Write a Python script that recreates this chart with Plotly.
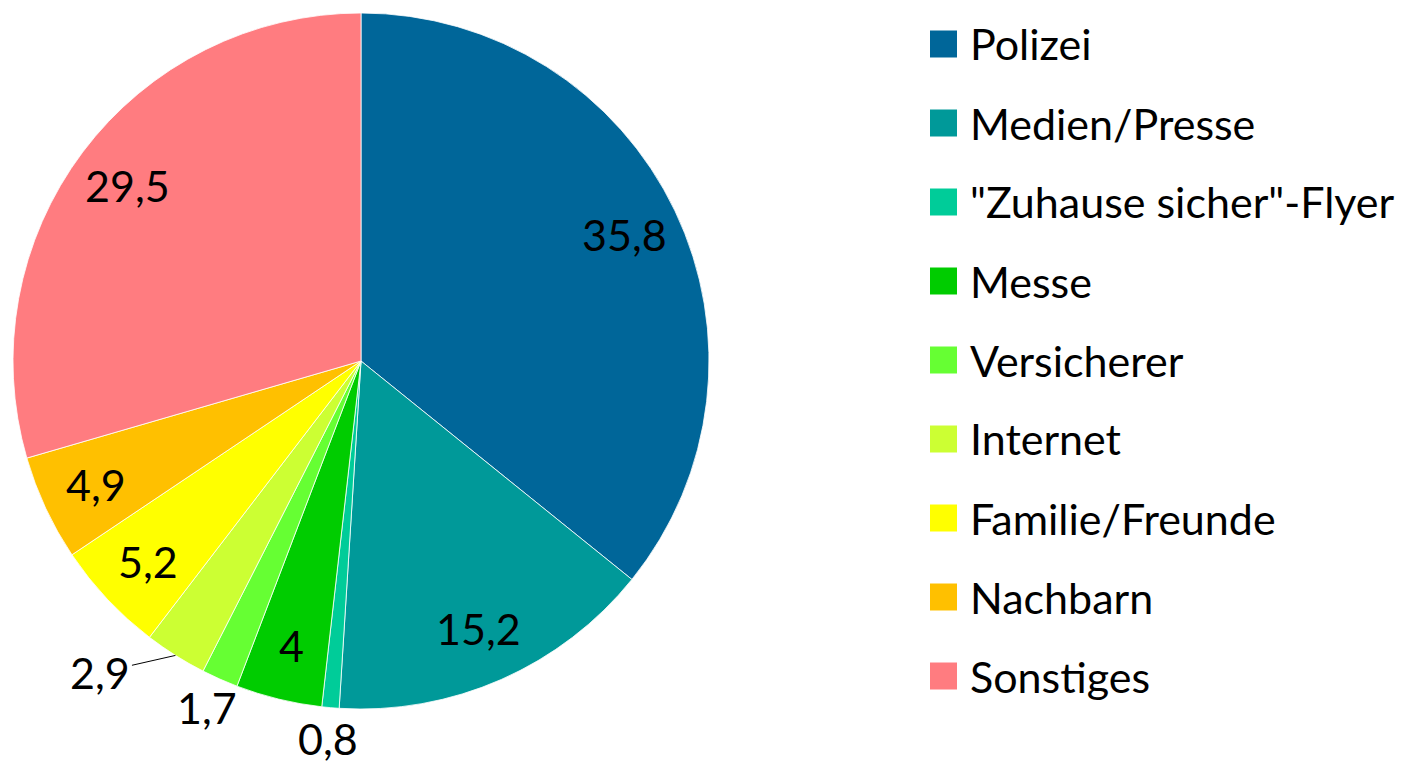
import numpy as np
import plotly.graph_objects as go

## Data
labels = ["Polizei", "Medien/Presse", "\"Zuhause sicher\"-Flyer", "Messe", "Versicherer",
          "Internet", "Familie/Freunde", "Nachbarn", "Sonstiges"]
values = [35.8, 15.2, 0.8, 4, 1.7, 2.9, 5.2, 4.9, 29.5]
colors = ["#006699", "#009999", "#00CC99", "#00CC00", "#66FF33",
          "#CCFF33", "#FFFF00", "#FFC000", "#FF7C80"]

## Page is 1413x763, but the body has an 8px margin, so the figure is shrunk to fit
OFF = 8
W, H = 1413 - OFF, 763 - OFF
FONT = "Lato"
FS = 43

## Pie geometry (page pixels)
cx, cy, R = 361, 361, 348

def px(x):
    return (x - OFF) / W

def py(y):
    return 1 - (y - OFF) / H

fig = go.Figure()

fig.add_trace(go.Pie(
    labels=labels,
    values=values,
    sort=False,
    direction="clockwise",
    rotation=0,
    marker=dict(colors=colors, line=dict(color="white", width=0.8)),
    textinfo="none",
    hoverinfo="label+value",
    showlegend=False,
    domain=dict(x=[px(cx - R), px(cx + R)], y=[py(cy + R), py(cy - R)])
))

## Slice labels
annotations = []
shapes = []
vals = np.array(values)
cum = np.cumsum(vals) - vals / 2
total = vals.sum()
for v, c in zip(values, cum):
    theta = np.deg2rad(c / total * 360)
    txt = f"{v:g}".replace(".", ",")
    if v >= 3:
        r = 0.84 * R
        annotations.append(dict(
            x=px(cx + r * np.sin(theta)), y=py(cy - r * np.cos(theta)),
            xref="paper", yref="paper", text=txt, showarrow=False,
            xanchor="center", yanchor="middle",
            font=dict(family=FONT, size=FS, color="black")))
    elif v > 2:
        # label pulled out with a leader line
        ex, ey = cx + R * np.sin(theta), cy - R * np.cos(theta)
        annotations.append(dict(
            x=px(ex), y=py(ey), xref="paper", yref="paper", text=txt,
            showarrow=True, arrowhead=0, arrowwidth=1, arrowcolor="black",
            ax=-75, ay=17, xanchor="center", yanchor="middle",
            font=dict(family=FONT, size=FS, color="black")))
    else:
        r = 1.09 * R
        annotations.append(dict(
            x=px(cx + r * np.sin(theta)), y=py(cy - r * np.cos(theta)),
            xref="paper", yref="paper", text=txt, showarrow=False,
            xanchor="center", yanchor="middle",
            font=dict(family=FONT, size=FS, color="black")))

## Legend
for i, (lab, col) in enumerate(zip(labels, colors)):
    yc = 44 + 79 * i
    shapes.append(dict(type="rect", xref="paper", yref="paper",
                       x0=px(930), x1=px(957), y0=py(yc + 13.5), y1=py(yc - 13.5),
                       fillcolor=col, line=dict(width=0)))
    annotations.append(dict(
        x=px(968), y=py(yc), xref="paper", yref="paper", text=lab,
        showarrow=False, xanchor="left", yanchor="middle",
        font=dict(family=FONT, size=FS, color="black")))

fig.update_layout(
    width=W, height=H,
    margin=dict(l=0, r=0, t=0, b=0),
    paper_bgcolor="white",
    plot_bgcolor="white",
    annotations=annotations,
    shapes=shapes,
    showlegend=False
)

fig.write_html("out.html")
